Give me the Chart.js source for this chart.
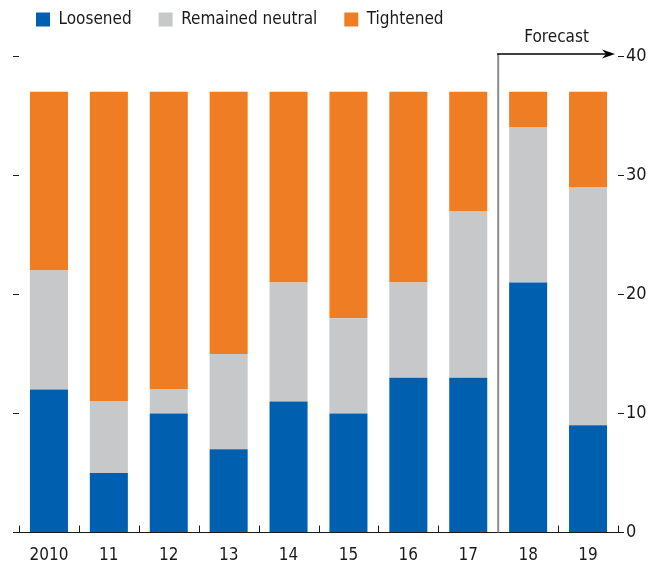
<!DOCTYPE html>
<html>
<head>
    <title>Stance of policy</title>
    <script src="https://cdn.jsdelivr.net/npm/chart.js@4.4.1/dist/chart.umd.min.js"></script>
    <style>
    body { margin: 0; background: #fff; }
    #box { width: 658px; height: 572px; }
    </style>
</head>
<body>
  <div id="box"><canvas id="myCanvas" width="658" height="572"></canvas></div>
  <script>
    var years = ["2010", "11", "12", "13", "14", "15", "16", "17", "18", "19"];
    var loosened = [12, 5, 10, 7, 11, 10, 13, 13, 21, 9];
    var neutral = [10, 6, 2, 8, 10, 8, 8, 14, 13, 20];
    var tightened = [15, 26, 25, 22, 16, 19, 16, 10, 3, 8];
    var yTicks = [0, 10, 20, 30, 40];
    var forecastFrom = 8; // index of first forecast year

    var FONT = "'Liberation Sans Narrow', 'DejaVu Sans Condensed', sans-serif";
    var INK = "#1a1a1a";

    // make room under the legend
    var legendGap = {
      id: 'legendGap',
      beforeLayout: function(chart) {
        var lg = chart.legend;
        if (lg && !lg._padded) {
          var fit = lg.fit;
          lg.fit = function() { fit.call(this); this.height += 18; };
          lg._padded = true;
        }
      }
    };

    // upward category ticks on the baseline + forecast marker
    var extras = {
      id: 'extras',
      afterDraw: function(chart) {
        var ctx = chart.ctx, x = chart.scales.x, y = chart.scales.y;
        var half = (x.getPixelForValue(1) - x.getPixelForValue(0)) / 2;
        var base = y.getPixelForValue(0);
        ctx.save();
        ctx.strokeStyle = INK;
        ctx.lineWidth = 1;
        for (var i = 0; i <= years.length; i++) {
          var px = Math.round(x.getPixelForValue(i) - half) + 0.5;
          ctx.beginPath();
          ctx.moveTo(px, base);
          ctx.lineTo(px, base - 7);
          ctx.stroke();
        }
        var fx = x.getPixelForValue(forecastFrom) - half;
        var top = y.getPixelForValue(40) - 2;
        ctx.strokeStyle = "#8c8c8c";
        ctx.lineWidth = 2;
        ctx.beginPath();
        ctx.moveTo(fx, base);
        ctx.lineTo(fx, top);
        ctx.stroke();
        var tip = chart.chartArea.right - 3;
        ctx.strokeStyle = "#000";
        ctx.lineWidth = 1.5;
        ctx.beginPath();
        ctx.moveTo(fx - 1, top);
        ctx.lineTo(tip - 8, top);
        ctx.stroke();
        ctx.fillStyle = "#000";
        ctx.beginPath();
        ctx.moveTo(tip, top);
        ctx.lineTo(tip - 13, top - 4.5);
        ctx.lineTo(tip - 9, top);
        ctx.lineTo(tip - 13, top + 4.5);
        ctx.closePath();
        ctx.fill();
        ctx.fillStyle = INK;
        ctx.font = "17px " + FONT;
        ctx.textAlign = "center";
        ctx.textBaseline = "middle";
        ctx.fillText("Forecast", (fx + tip) / 2, top - 16);
        ctx.restore();
      }
    };

    new Chart(document.getElementById("myCanvas"), {
      type: 'bar',
      data: {
        labels: years,
        datasets: [
          { label: "Loosened", data: loosened, backgroundColor: "#0060af" },
          { label: "Remained neutral", data: neutral, backgroundColor: "#c7c8ca" },
          { label: "Tightened", data: tightened, backgroundColor: "#ee7d23" }
        ]
      },
      options: {
        responsive: false,
        animation: false,
        categoryPercentage: 1,
        barPercentage: 0.635,
        layout: { padding: { top: -16, left: 9, right: 0, bottom: 1 } },
        plugins: {
          legend: {
            align: 'start',
            labels: {
              boxWidth: 14, boxHeight: 14, padding: 27,
              color: INK, font: { family: FONT, size: 17 }
            }
          },
          tooltip: { enabled: false }
        },
        scales: {
          x: {
            stacked: true,
            grid: { display: false },
            border: { display: true, color: INK, width: 1 },
            ticks: { color: INK, font: { family: FONT, size: 17 }, padding: 5, maxRotation: 0 }
          },
          y: {
            stacked: true,
            position: 'right',
            min: 0, max: 40,
            afterBuildTicks: function(s) { s.ticks = yTicks.map(function(v) { return { value: v }; }); },
            grid: { drawOnChartArea: false, tickLength: 6, tickColor: INK },
            border: { display: false },
            ticks: { color: INK, font: { family: FONT, size: 18 }, padding: 2 },
            afterFit: function(s) { s.width = 40; }
          },
          yl: {
            position: 'left',
            min: 0, max: 40,
            afterBuildTicks: function(s) { s.ticks = yTicks.map(function(v) { return { value: v }; }); },
            grid: { drawOnChartArea: false, tickLength: 6, tickColor: INK },
            border: { display: false },
            ticks: { callback: function() { return ""; } },
            afterFit: function(s) { s.width = 10; }
          }
        }
      },
      plugins: [legendGap, extras]
    });
  </script>
</body>
</html>
